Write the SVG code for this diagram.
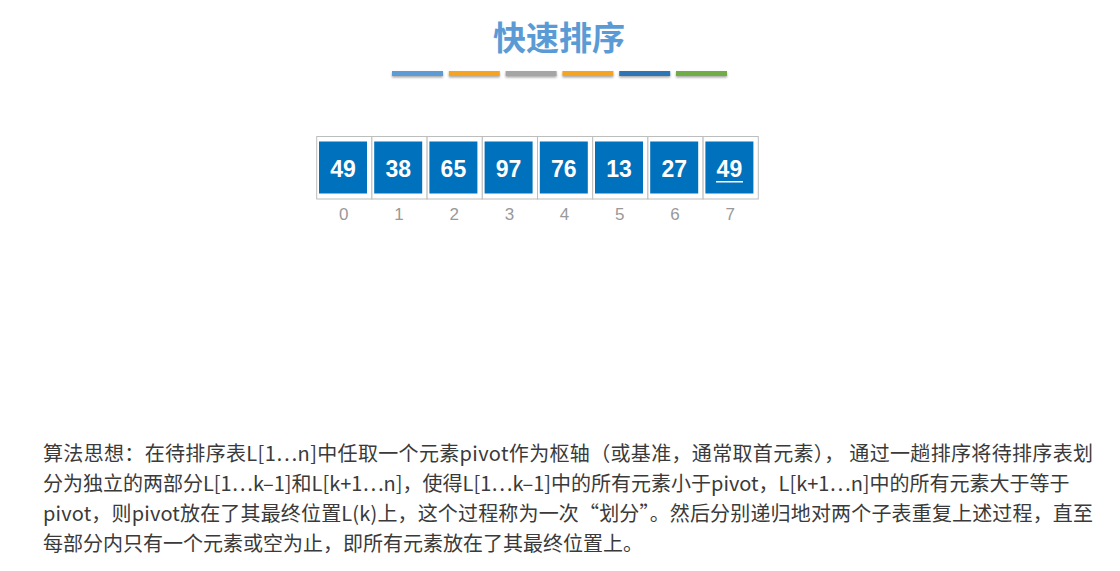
<svg xmlns="http://www.w3.org/2000/svg" width="1120" height="571" viewBox="0 0 1120 571">
<style>
.title{font-family:"Noto Sans CJK SC","Noto Sans",sans-serif;font-size:33px;font-weight:bold;fill:#5b9bd5}
.cell{fill:#ffffff;stroke:#bdbdbd;stroke-width:1}
.sq{fill:#0071bc}
.num{font-family:"Liberation Sans",Arial,sans-serif;font-size:23px;font-weight:bold;fill:#ffffff;text-anchor:middle}
.idx{font-family:"Liberation Sans",Arial,sans-serif;font-size:17px;fill:#999999;text-anchor:middle}
.para{font-family:"Noto Sans CJK SC","Noto Sans",sans-serif;font-size:20px;fill:#3a3a3a}
</style>
<defs>
<filter id="sh" x="-10%" y="-50%" width="120%" height="250%">
<feDropShadow dx="0" dy="1.5" stdDeviation="0.8" flood-color="#000" flood-opacity="0.35"/>
</filter>
</defs>
<rect width="1120" height="571" fill="#ffffff"/>
<g id="title">
<text class="title" x="559" y="50" text-anchor="middle">快速排序</text>
</g>
<g id="bars" filter="url(#sh)">
<rect x="392" y="71" width="51" height="5" fill="#5b9bd5"/>
<rect x="448.8" y="71" width="51" height="5" fill="#f4a321"/>
<rect x="505.6" y="71" width="51" height="5" fill="#a5a5a5"/>
<rect x="562.4" y="71" width="51" height="5" fill="#f4a321"/>
<rect x="619.2" y="71" width="51" height="5" fill="#2e75b6"/>
<rect x="676" y="71" width="51" height="5" fill="#70ad47"/>
</g>
<g id="array">
<g id="cell0"><rect class="cell" x="316.7" y="136.5" width="55.2" height="62.5"/><rect class="sq" x="319" y="141.5" width="48" height="52"/><text class="num" x="343" y="177.3">49</text><text class="idx" x="343.8" y="220">0</text></g>
<g id="cell1"><rect class="cell" x="371.9" y="136.5" width="55.2" height="62.5"/><rect class="sq" x="374.2" y="141.5" width="48" height="52"/><text class="num" x="398.2" y="177.3">38</text><text class="idx" x="399" y="220">1</text></g>
<g id="cell2"><rect class="cell" x="427.1" y="136.5" width="55.2" height="62.5"/><rect class="sq" x="429.4" y="141.5" width="48" height="52"/><text class="num" x="453.4" y="177.3">65</text><text class="idx" x="454.2" y="220">2</text></g>
<g id="cell3"><rect class="cell" x="482.3" y="136.5" width="55.2" height="62.5"/><rect class="sq" x="484.6" y="141.5" width="48" height="52"/><text class="num" x="508.6" y="177.3">97</text><text class="idx" x="509.4" y="220">3</text></g>
<g id="cell4"><rect class="cell" x="537.5" y="136.5" width="55.2" height="62.5"/><rect class="sq" x="539.8" y="141.5" width="48" height="52"/><text class="num" x="563.8" y="177.3">76</text><text class="idx" x="564.6" y="220">4</text></g>
<g id="cell5"><rect class="cell" x="592.7" y="136.5" width="55.2" height="62.5"/><rect class="sq" x="595" y="141.5" width="48" height="52"/><text class="num" x="619" y="177.3">13</text><text class="idx" x="619.8" y="220">5</text></g>
<g id="cell6"><rect class="cell" x="647.9" y="136.5" width="55.2" height="62.5"/><rect class="sq" x="650.2" y="141.5" width="48" height="52"/><text class="num" x="674.2" y="177.3">27</text><text class="idx" x="675" y="220">6</text></g>
<g id="cell7"><rect class="cell" x="703.1" y="136.5" width="55.2" height="62.5"/><rect class="sq" x="705.4" y="141.5" width="48" height="52"/><text class="num" x="729.4" y="177.3">49</text><rect x="716" y="181" width="27" height="1.5" fill="#ffffff"/><text class="idx" x="730.2" y="220">7</text></g>
</g>
<g id="description">
<text class="para" x="43" y="461" textLength="1050" lengthAdjust="spacing">算法思想：在待排序表L[1…n]中任取一个元素pivot作为枢轴（或基准，通常取首元素）， 通过一趟排序将待排序表划</text>
<text class="para" x="43" y="491">分为独立的两部分L[1…k–1]和L[k+1…n]，使得L[1…k–1]中的所有元素小于pivot，L[k+1…n]中的所有元素大于等于</text>
<text class="para" x="43" y="521" textLength="1050" lengthAdjust="spacing">pivot，则pivot放在了其最终位置L(k)上，这个过程称为一次“划分”。然后分别递归地对两个子表重复上述过程，直至</text>
<text class="para" x="43" y="551">每部分内只有一个元素或空为止，即所有元素放在了其最终位置上。</text>
</g>
</svg>
